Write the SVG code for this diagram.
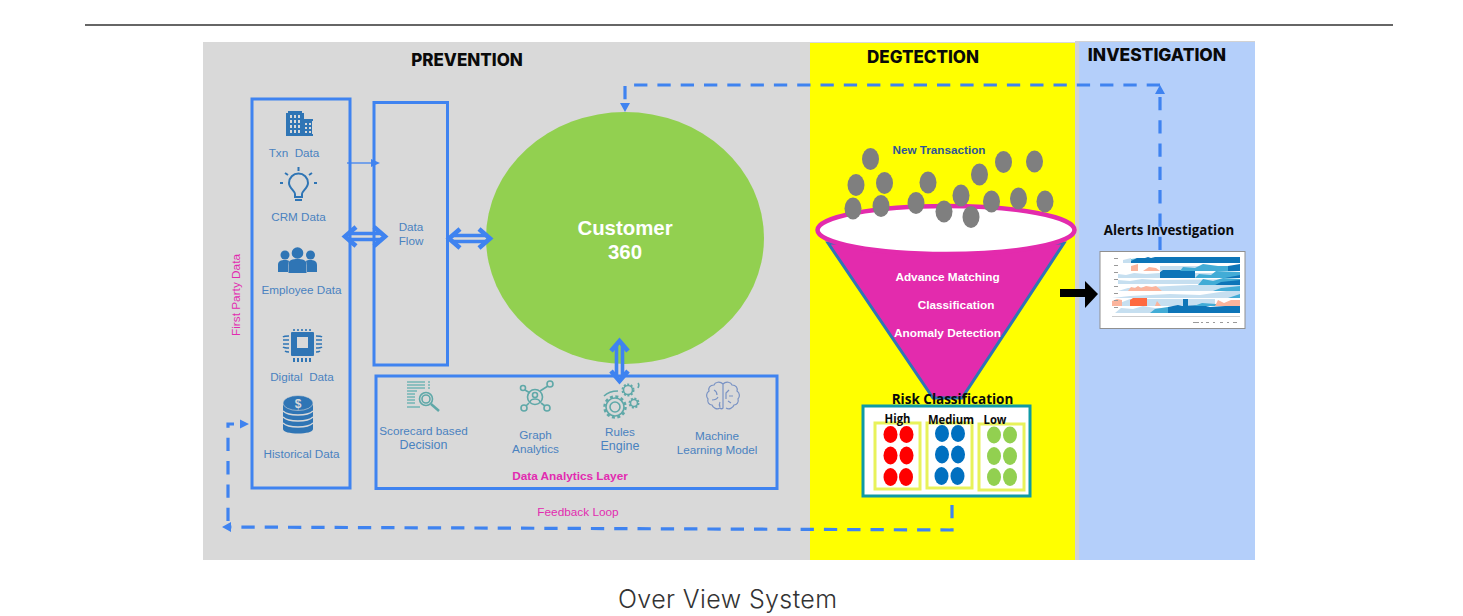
<svg xmlns="http://www.w3.org/2000/svg" width="1463" height="616" viewBox="0 0 1463 616">
<style>
.h{font:800 17px Inter,"Liberation Sans",sans-serif;fill:#0a0a0a;text-anchor:middle}
.l{font:11.700px "Liberation Sans",Arial,sans-serif;fill:#4a82c0;text-anchor:middle;white-space:pre}
.m{font:11.800px "Liberation Sans",Arial,sans-serif;fill:#e22bb0;text-anchor:middle}
.w{font:700 11.800px "Liberation Sans",Arial,sans-serif;fill:#fff;text-anchor:middle}
.k{font:700 12.500px "Open Sans","Liberation Sans",sans-serif;fill:#0a0a0a;text-anchor:middle}
.c{font:700 20.400px "Liberation Sans",Arial,sans-serif;fill:#fff;text-anchor:middle}
.box{fill:none;stroke:#3f83f0;stroke-width:3}
.dash{fill:none;stroke:#3f83f0;stroke-width:3.2;stroke-dasharray:13.300 10}
.dbl{fill:none;stroke:#3f83f0;stroke-width:3.600}
.head{fill:none;stroke:#3f83f0;stroke-width:4.600}
.tip{fill:#3f83f0}
.ic{fill:#2f75b5}
.is{fill:none;stroke:#2f75b5;stroke-width:2}
.te{fill:none;stroke:#5fa8a8;stroke-width:1.600}
.g{fill:#7f7f7f}
.r{fill:#ff0000}.b{fill:#0070c0}.n{fill:#92d050}
.lv{fill:none;stroke:#e8f25a;stroke-width:3}
</style>
<defs>
<filter id="soft" x="-5%" y="-5%" width="110%" height="110%"><feGaussianBlur stdDeviation="0.500"/></filter>
</defs>
<rect width="1463" height="616" fill="#fff"/>
<line x1="85" y1="25" x2="1393" y2="25" stroke="#333" stroke-width="1.400"/>
<g id="panels">
<rect x="203" y="42" width="872" height="518" fill="#d9d9d9"/>
<rect x="810" y="43" width="265" height="517" fill="#ffff00"/>
<rect x="1075" y="41" width="180" height="519" fill="#d2d2d2"/>
<rect x="1079" y="42" width="176" height="518" fill="#b4cffa"/>
<text class="h" x="467" y="65.500">PREVENTION</text>
<text class="h" x="923" y="63">DEGTECTION</text>
<text class="h" x="1157" y="61" style="font-size:17.400px">INVESTIGATION</text>
</g>
<g id="first-party">
<rect class="box" x="252" y="99" width="98" height="389"/>
<text class="m" transform="translate(239.500 295) rotate(-90)">First Party Data</text>
<g id="txn">
<path class="ic" d="M286 135v-22h2v-2h14v2h2v6h9v2h-1v13h1v2h-27z"/>
<path fill="#d9d9d9" d="M290 115h2v3h-2zM294 115h2v3h-2zM298 115h2v3h-2zM290 120h2v3h-2zM294 120h2v3h-2zM298 120h2v3h-2zM290 125h2v3h-2zM294 125h2v3h-2zM298 125h2v3h-2zM290 130h2v3h-2zM294 130h2v3h-2zM298 130h2v3h-2zM305 123h2v2h-2zM309 123h2v2h-2zM305 127h2v2h-2zM309 127h2v2h-2zM305 131h2v2h-2zM309 131h2v2h-2z"/>
<text class="l" x="294" y="157">Txn  Data</text>
</g>
<g id="crm">
<path class="is" d="M295 197v-3c0-3-6-6-6-11a9.500 9.500 0 0 1 19 0c0 5-6 8-6 11v3zM295 200h7M298.500 171v-4M288 175l-3-2M309 175l3-2M283 183h-3M314 183h3"/>
<text class="l" x="298.500" y="221">CRM Data</text>
</g>
<g id="employee">
<circle class="ic" cx="285" cy="255" r="4.500"/><circle class="ic" cx="297.500" cy="253" r="5.800"/><circle class="ic" cx="310.500" cy="255" r="4.500"/>
<path class="ic" d="M278 272v-7c0-4 3-5 7-5 2 0 3 0 4 1l-1 4v7zM307 272v-7l-1-4c1-1 2-1 4-1 4 0 7 1 7 5v7z"/>
<path class="ic" d="M288.500 273v-9c0-4 4-5 9-5s9 1 9 5v9z"/>
<text class="l" x="301.500" y="294">Employee Data</text>
</g>
<g id="digital">
<rect class="ic" x="291" y="332" width="23" height="24" rx="1"/>
<rect x="297" y="337" width="11" height="11" fill="#d9d9d9"/>
<path d="M294 329v2M298 329v2M302 329v2M306 329v2M310 329v2" stroke="#2f75b5" stroke-width="1.600" fill="none"/>
<path d="M294 358v4M298 358v4M302 358v4M306 358v4M310 358v4" stroke="#2f75b5" stroke-width="2" fill="none"/>
<path d="M289 336c-3 0-5 0-6 1M289 340h-6M289 344h-6M289 348c-3 0-5 0-6-1M289 352c-2 0-3 0-4-1M316 336c3 0 5 0 6 1M316 340h6M316 344h6M316 348c3 0 5 0 6-1M316 352c2 0 3 0 4-1" stroke="#2f75b5" stroke-width="1.500" fill="none"/>
<text class="l" x="302" y="381">Digital  Data</text>
</g>
<g id="historical">
<path class="ic" d="M283 403h30v26c0 3-7 4.500-15 4.500s-15-1.500-15-4.500z"/>
<path d="M283 411c3 3 9 4 15 4s12-1 15-4M283 417c3 3 9 4 15 4s12-1 15-4M283 423c3 3 9 4 15 4s12-1 15-4" fill="none" stroke="#d9d9d9" stroke-width="1.300"/>
<ellipse class="ic" cx="298" cy="403" rx="15" ry="7.500" stroke="#d9d9d9" stroke-width=".6"/>
<text x="298" y="407.500" font-family="Liberation Sans,sans-serif" font-weight="700" font-size="12" fill="#d9d9d9" text-anchor="middle">$</text>
<text class="l" x="301.500" y="458">Historical Data</text>
</g>
</g>
<g id="data-flow">
<rect class="box" x="374" y="102.500" width="73.500" height="262.500"/>
<text class="l" x="411" y="231">Data</text>
<text class="l" x="411" y="245">Flow</text>
</g>
<g id="customer">
<ellipse cx="625" cy="238" rx="139" ry="126" fill="#92d050"/>
<text class="c" x="625" y="234.500">Customer</text>
<text class="c" x="625" y="258.500">360</text>
</g>
<g id="analytics">
<rect class="box" x="376" y="376" width="401" height="112.500"/>
<g id="scorecard">
<path d="M407 382h18M407 385h18M407 388h18M407 391h10M407 394h8M407 397h8M407 400h8M407 403h8M407 407h13M428 382h2M428 385h2M428 388h2" stroke="#73b5b5" stroke-width="1.600" fill="none"/>
<circle cx="426" cy="399" r="6.500" class="te" stroke-width="2"/><circle cx="426" cy="399" r="4" class="te"/>
<path d="M431 404l8 7" stroke="#5fa8a8" stroke-width="2.500" fill="none"/>
<text class="l" x="423.500" y="435">Scorecard based</text>
<text class="l" x="423.500" y="449" style="font-size:12.500px">Decision</text>
</g>
<g id="graph">
<circle class="te" cx="535" cy="397" r="7.500"/><circle class="te" cx="535" cy="395" r="2.500"/><path class="te" d="M530 402c1-4 9-4 10 0"/>
<circle class="te" cx="523" cy="388" r="2.500"/><circle class="te" cx="550" cy="384" r="3"/><circle class="te" cx="524" cy="408" r="3"/><circle class="te" cx="547" cy="408" r="3"/>
<path class="te" d="M525 390l5 3M540 391l8-5M529 403l-3 3M541 403l4 3"/>
<text class="l" x="535.500" y="438.500">Graph</text>
<text class="l" x="535.500" y="452.500">Analytics</text>
</g>
<g id="rules">
<circle cx="615" cy="407" r="9" class="te"/><circle cx="615" cy="407" r="10.500" fill="none" stroke="#5fa8a8" stroke-width="2.500" stroke-dasharray="3 2.500"/><circle cx="615" cy="407" r="5" class="te"/>
<circle cx="628" cy="390" r="4.500" class="te"/><circle cx="628" cy="390" r="5.500" fill="none" stroke="#5fa8a8" stroke-width="2" stroke-dasharray="2 1.500"/>
<circle cx="634" cy="403" r="3.500" class="te"/><circle cx="634" cy="403" r="4.500" fill="none" stroke="#5fa8a8" stroke-width="2" stroke-dasharray="2 1.500"/>
<path class="te" d="M604 396c3-3 8-5 14-5M638 388c1-2 1-4 0-5"/>
<text class="l" x="620" y="436">Rules</text>
<text class="l" x="620" y="450" style="font-size:12.500px">Engine</text>
</g>
<g id="ml">
<path fill="none" stroke="#7a93c4" stroke-width="1.200" d="M723 384c-3-3-8-2-9 1-4 0-6 3-5 6-3 2-3 6-1 8-1 3 1 6 4 6 1 3 5 5 8 3 1 1 2 1 3 0zM723 384c3-3 8-2 9 1 4 0 6 3 5 6 3 2 3 6 1 8 1 3-1 6-4 6-1 3-5 5-8 3M714 390c2 1 3 3 3 5M712 400c3 0 5-1 6-3M720 402c-1 2-1 3 0 5M729 390l-3 3v6M733 396h-4M731 403l-3-2"/>
<text class="l" x="717" y="440">Machine</text>
<text class="l" x="717" y="454">Learning Model</text>
</g>
<text class="m" x="570" y="480" style="font-weight:700">Data Analytics Layer</text>
</g>
<g id="funnel">
<path d="M828 243L933 398H962L1064 243Z" fill="#e32bad" stroke="#2f75b5" stroke-width="3"/>
<ellipse cx="946" cy="230" rx="128.500" ry="24" fill="#fff" stroke="#e32bad" stroke-width="4.500"/>
<g class="g">
<ellipse cx="870.500" cy="159" rx="8.500" ry="11"/><ellipse cx="856" cy="185" rx="8.500" ry="11"/><ellipse cx="884.500" cy="183" rx="8.500" ry="11"/><ellipse cx="853" cy="208.500" rx="8.500" ry="11"/><ellipse cx="881" cy="206" rx="8.500" ry="11"/><ellipse cx="928" cy="182.500" rx="8.500" ry="11"/><ellipse cx="916" cy="203" rx="8.500" ry="11"/><ellipse cx="944" cy="211.500" rx="8.500" ry="11"/><ellipse cx="961" cy="195.500" rx="8.500" ry="11"/><ellipse cx="971" cy="217" rx="8.500" ry="11"/><ellipse cx="979.500" cy="174.500" rx="8.500" ry="11"/><ellipse cx="991.500" cy="201.500" rx="8.500" ry="11"/><ellipse cx="1003.500" cy="162" rx="8.500" ry="11"/><ellipse cx="1018.500" cy="198.500" rx="8.500" ry="11"/><ellipse cx="1034.500" cy="161.500" rx="8.500" ry="11"/><ellipse cx="1045" cy="201.500" rx="8.500" ry="11"/>
</g>
<text x="939" y="154" font-family="Liberation Sans,Arial,sans-serif" font-weight="700" font-size="11.700" fill="#2f5597" text-anchor="middle">New Transaction</text>
<text class="w" x="947.500" y="281">Advance Matching</text>
<text class="w" x="956" y="309">Classification</text>
<text class="w" x="947.500" y="337">Anomaly Detection</text>
</g>
<g id="risk">
<rect x="863" y="406" width="167" height="90" fill="#fff" stroke="#0f9aa5" stroke-width="3"/>
<rect class="lv" x="875" y="423" width="45" height="66"/><rect class="lv" x="927" y="423" width="45" height="65"/><rect class="lv" x="979" y="424" width="45" height="66"/>
<g class="r"><ellipse cx="890.500" cy="434.500" rx="7" ry="8.500"/><ellipse cx="906.500" cy="434.500" rx="7" ry="8.500"/><ellipse cx="890.500" cy="455.500" rx="7" ry="9"/><ellipse cx="906.500" cy="455.500" rx="7" ry="9"/><ellipse cx="890.500" cy="477" rx="7" ry="9"/><ellipse cx="906" cy="477" rx="7" ry="9"/></g>
<g class="b"><ellipse cx="942" cy="433.500" rx="7" ry="8.500"/><ellipse cx="958" cy="433.500" rx="7" ry="8.500"/><ellipse cx="942" cy="454.500" rx="7" ry="9"/><ellipse cx="958" cy="454.500" rx="7" ry="9"/><ellipse cx="941.500" cy="476" rx="7" ry="9"/><ellipse cx="957.500" cy="476" rx="7" ry="9"/></g>
<g class="n"><ellipse cx="994" cy="435" rx="7" ry="8.500"/><ellipse cx="1010" cy="435" rx="7" ry="8.500"/><ellipse cx="994" cy="456" rx="7" ry="9"/><ellipse cx="1010" cy="456" rx="7" ry="9"/><ellipse cx="994" cy="477" rx="7" ry="9"/><ellipse cx="1010" cy="477" rx="7" ry="9"/></g>
<text class="k" x="952.500" y="404" style="font-size:13.500px">Risk Classification</text>
<text class="k" x="897.500" y="423" transform="translate(897.500 0) scale(.9 1) translate(-897.500 0)">High</text>
<text class="k" x="951" y="424" transform="translate(951 0) scale(.9 1) translate(-951 0)">Medium</text>
<text class="k" x="995" y="424" transform="translate(995 0) scale(.9 1) translate(-995 0)">Low</text>
</g>
<g id="connectors">
<path class="dash" d="M1160 250V92"/>
<path class="dash" d="M1160 85H625V100"/>
<path class="tip" d="M620 103h10l-5 9zM1155 94h10l-5-9z"/>
<path class="dash" d="M952 505V530L230 527"/>
<path class="dash" d="M228 521V424H234"/>
<path class="tip" d="M240 419.500l9 4.500-9 4.500zM231 522v10l-9-5z"/>
<path fill="none" stroke="#3f83f0" stroke-width="1.300" d="M347 163h30"/>
<path class="tip" d="M371 159l9 4-9 4z"/>
<path class="dbl" d="M348 233.500H382M348 239.500H382"/>
<path class="head" d="M356 227L345 236.500L356 246M374 227L385 236.500L374 246"/>
<path class="dbl" d="M452 235.500H488M452 241.500H488"/>
<path class="head" d="M460 229L449 238.500L460 248M479 229L490 238.500L479 248"/>
<path class="dbl" d="M616.500 345V378M622.500 345V378"/>
<path class="head" d="M611 351L619.500 341L628 351M611 371L619.500 381L628 371"/>
<path d="M1060 293H1086" stroke="#000" stroke-width="8" fill="none"/>
<path d="M1085 281L1098 294L1085 308Z" fill="#000"/>
</g>
<g id="alerts">
<text x="1169" y="235" font-family="Open Sans,Liberation Sans,sans-serif" font-weight="700" font-size="13.300" fill="#0a0a0a" text-anchor="middle">Alerts Investigation</text>
<rect x="1100" y="251.500" width="145" height="77" fill="#fff" stroke="#909090" stroke-width="1"/>
<g filter="url(#soft)">
<path fill="#c6dff0" d="M1123 263v-3l8-2v5zM1160 271v-5h80v5zM1118 278v-4l8 1 8-2 12 1 14-1h80v5zM1118 284v-4l12 1 12-2 14 1 84-1v5zM1118 291l10-3 62-3h50v6zM1112 298l18-2 40-2 30 1 40-6v9zM1112 306l18-7h85v7zM1115 313l6-5 12 1 10-3 12 2 85-1v6z"/>
<path fill="#6cc0e0" d="M1131 263v-4l8-1v5z"/>
<path fill="#0f75b8" d="M1131 263v-2l6-3 8 0 3-1 3 1 4-1h85v6zM1160 278v-6l3-2h32v8zM1228 271v-5l12-2v7zM1168 313v-6l10-2 4 1 20-1 8 2 30-2v8zM1183 306v-7h5v7z"/>
<path fill="#43acd6" d="M1180 271l3-4 12 1 8-4 15 2 10 0v5zM1195 278l4-4 12 1 5-4 24 1v6zM1198 285l5-6 10 2 10-3 17 1v6zM1213 291l8-3 19-2v5zM1228 298l12-4v4zM1150 313l5-4 13-2v6zM1194 306l8-3 14 1v2z"/>
<path fill="#0f75b8" d="M1215 285l6-3 19-2v5zM1225 278l15-3v3z"/>
<path fill="#fbb49c" d="M1131 271v-5l7-2v7zM1143 271l6-4 7 1 4 3zM1128 291l3-4 4 1 3-2 3 2 5-2 6 1 4-1 6 5zM1112 306v-5l5-2 5 1v6zM1155 306l2-5 4 5zM1215 306l3-6 6 3 7-3 9 0v6z"/>
<path fill="#ff6a3f" d="M1130 306v-6l3-2h14v8z"/>
<path fill="#999" d="M1114 258h4v1h-4zM1114 265h4v1h-4zM1114 272h4v1h-4zM1114 279h4v1h-4zM1114 286h4v1h-4zM1114 293h4v1h-4zM1114 300h4v1h-4zM1114 307h4v1h-4zM1193 322h6v1h-6zM1201 322h2v1h-2zM1206 322h3v1h-3zM1213 322h2v1h-2zM1220 322h3v1h-3zM1227 322h2v1h-2zM1233 322h4v1h-4zM1112 316h128v.600h-128z"/>
</g>
</g>
<text class="m" x="578" y="516">Feedback Loop</text>
<text x="727.500" y="608" font-family="Inter,Lato,sans-serif" font-weight="300" font-size="25" fill="#333" text-anchor="middle" textLength="219">Over View System</text>
</svg>
